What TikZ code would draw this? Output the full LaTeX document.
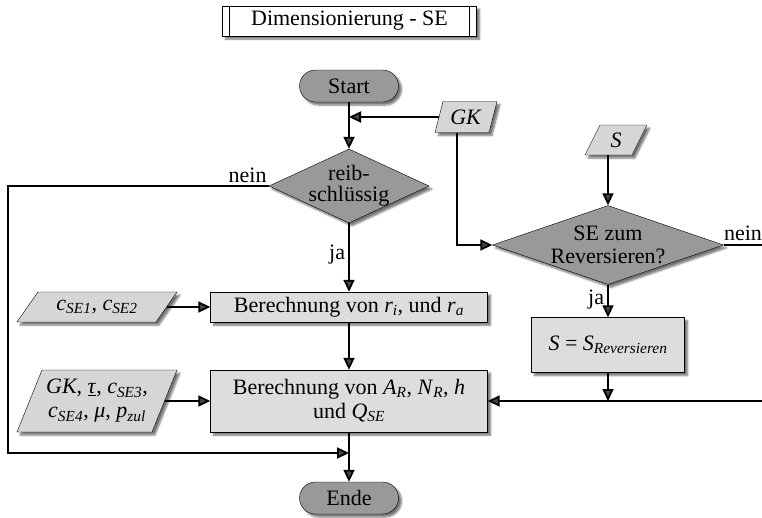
\documentclass[tikz,border=0pt]{standalone}
\usepackage{fontspec}
\setmainfont{Liberation Serif}
\usetikzlibrary{shapes.geometric,shapes.misc,arrows.meta,shadows.blur}

% italic symbol with italic subscript
\newcommand\isub[2]{\textit{#1}\textsubscript{\textit{#2}}}
% parallelogram frame: centre x, centre y, half width, half height, half slant
\newcommand\paraat[5]{%
  \path[ioframe,shift={(#1,#2)}] ({-#3-#5},#4) -- ({-#3+#5},-#4)
    -- ({#3+#5},-#4) -- ({#3-#5},#4) -- cycle;}

\begin{document}
\begin{tikzpicture}[x=1pt,y=-1pt,
  font=\fontsize{22}{24}\selectfont,
  softshadow/.style={blur shadow={shadow xshift=3pt,shadow yshift=-3pt,shadow blur steps=6,shadow opacity=55}},
  term/.style={rounded rectangle,draw,fill=gray!80,minimum width=99pt,minimum height=32pt,inner sep=0pt,softshadow},
  decision/.style={diamond,draw,fill=gray!80,inner sep=0pt,softshadow},
  process/.style={rectangle,draw,fill=gray!27,inner sep=2pt,align=center,softshadow},
  iotext/.style={rectangle,inner sep=0pt,align=center},
  ioframe/.style={draw,fill=gray!32,softshadow},
  flow/.style={line width=1.8pt,-{Triangle[length=12pt,width=11pt]}},
  plain/.style={line width=1.8pt},
  lbl/.style={inner sep=0pt}
]
\useasboundingbox (0,0) rectangle (762,517);

% title
\node[draw,fill=white,minimum width=254pt,minimum height=30pt,inner sep=0pt,softshadow] (title) at (349.5,21) {Dimensionierung - SE};
\draw[line width=0.9pt] ([xshift=7pt]title.north west) -- ([xshift=7pt]title.south west);
\draw[line width=0.9pt] ([xshift=-7pt]title.north east) -- ([xshift=-7pt]title.south east);

% terminals
\node[term] (start) at (349,86) {Start};
\node[term] (ende) at (349,498) {Ende};

% decisions
\node[decision,minimum width=160pt,minimum height=74pt,
      label={[align=center,font=\fontsize{22}{21}\selectfont]center:reib-\\schlüssig}] (reib) at (349,186) {};
\node[decision,minimum width=231pt,minimum height=79pt,
      label={[align=center,font=\fontsize{22}{23}\selectfont]center:SE zum\\Reversieren?}] (rev) at (608,245) {};

% input frames
\paraat{466}{117}{27}{15.5}{4}
\paraat{616}{140}{23.5}{15}{7.5}
\paraat{97}{307}{69.5}{15}{10.5}
\paraat{97}{401}{67.5}{31}{12.5}

% input texts
\node[iotext,minimum width=54pt,minimum height=31pt] (gk) at (466,117) {\textit{GK}};
\node[iotext,minimum width=47pt,minimum height=30pt] (s) at (616,140) {\textit{S}};
\node[iotext,minimum width=139pt,minimum height=30pt] (c12) at (97,307) {\isub{c}{SE1}, \isub{c}{SE2}};
\node[iotext,minimum width=135pt,minimum height=62pt] (c34) at (97,401)
  {\textit{GK}, \underline{\textit{τ}}, \isub{c}{SE3},\\\isub{c}{SE4}, \textit{μ}, \isub{p}{zul}};

% process boxes
\node[process,minimum width=277pt,minimum height=30pt] (rira) at (349,307) {Berechnung von \isub{r}{i}, und \isub{r}{a}};
\node[process,minimum width=277pt,minimum height=62pt] (arnr) at (349,401) {Berechnung von \isub{A}{R}, \isub{N}{R}, \textit{h}\\und \isub{Q}{SE}};
\node[process,minimum width=153pt,minimum height=55pt] (srev) at (608,345) {\textit{S} = \isub{S}{Reversieren}};

% junction points
\coordinate (gkin) at (349,117);
\coordinate (loopL1) at (8,186);
\coordinate (loopL2) at (8,453);
\coordinate (loopIn) at (349,453);
\coordinate (revOut) at (762,245);
\coordinate (mergeR) at (762,401);
\coordinate (mergeS) at (608,401);

% main line
\draw[flow] (start) -- (reib);
\draw[flow] (gk.west) -- (gkin);
\draw[flow] (reib) -- node[lbl,left=3pt,pos=0.45]{ja} (rira);
\draw[flow] (rira) -- (arnr);
\draw[flow] (arnr) -- (ende);
\draw[flow] (c12.east) -- (rira);
\draw[flow] (c34.east) -- (arnr);

% bypass for the non-friction-locked case
\draw[flow] (reib.west) -- (loopL1) -- (loopL2) -- (loopIn);
\node[lbl,anchor=south east] at ([xshift=-2pt,yshift=3pt]reib.west) {nein};

% reversing branch
\draw[flow] ([xshift=-9pt]gk.south) |- (rev.west);
\draw[flow] (s.south -| rev.north) -- (rev.north);
\draw[plain] (rev.east) -- (revOut);
\node[lbl,anchor=south] at (743,241) {nein};
\draw[flow] (rev.south) -- node[lbl,left=3pt,pos=0.45]{ja} (srev);
\draw[flow] (srev) -- (mergeS);
\draw[flow] (mergeR) -- (arnr.east);
\end{tikzpicture}
\end{document}
